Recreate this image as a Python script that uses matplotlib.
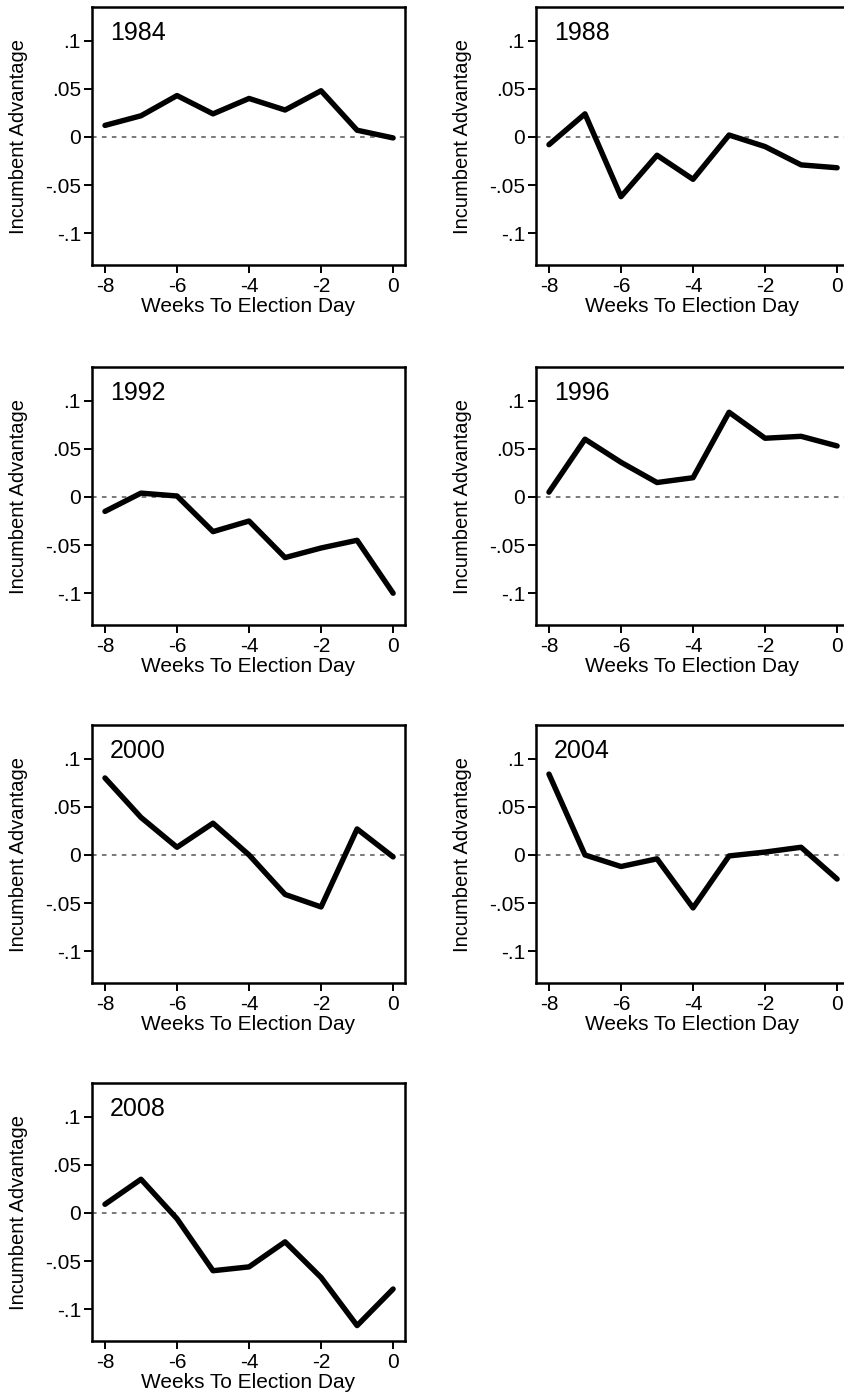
import numpy as np
import matplotlib
matplotlib.use('Agg')
import matplotlib.pyplot as plt

plt.rcParams['font.family'] = ['Liberation Sans', 'DejaVu Sans']

weeks = [-8, -7, -6, -5, -4, -3, -2, -1, 0]
years = ['1984', '1988', '1992', '1996', '2000', '2004', '2008']

adv_1984 = [0.012, 0.022, 0.043, 0.024, 0.040, 0.028, 0.048, 0.007, -0.001]
adv_1988 = [-0.008, 0.024, -0.062, -0.019, -0.044, 0.002, -0.010, -0.029, -0.032]
adv_1992 = [-0.015, 0.004, 0.001, -0.036, -0.025, -0.063, -0.053, -0.045, -0.100]
adv_1996 = [0.005, 0.060, 0.036, 0.015, 0.020, 0.088, 0.061, 0.063, 0.053]
adv_2000 = [0.080, 0.039, 0.008, 0.033, 0.000, -0.041, -0.054, 0.027, -0.002]
adv_2004 = [0.084, 0.000, -0.012, -0.004, -0.055, -0.001, 0.003, 0.008, -0.025]
adv_2008 = [0.009, 0.035, -0.006, -0.060, -0.056, -0.030, -0.067, -0.117, -0.079]

series = [adv_1984, adv_1988, adv_1992, adv_1996, adv_2000, adv_2004, adv_2008]

yticks = [0.1, 0.05, 0, -0.05, -0.1]
ytick_labels = ['.1', '.05', '0', '-.05', '-.1']
xticks = [-8, -6, -4, -2, 0]

W, H = 844, 1395
fig = plt.figure(figsize=(W / 100, H / 100), dpi=100)

# panel boxes in pixels (the right column runs past the image edge, as in the source)
col_left = [92, 536]
row_top = [7, 367, 725, 1083]
ax_w, ax_h = 313, 258

for k, (yr, vals) in enumerate(zip(years, series)):
    r, c = divmod(k, 2)
    x0 = col_left[c]
    y0 = row_top[r] + ax_h
    ax = fig.add_axes([x0 / W, 1 - y0 / H, ax_w / W, ax_h / H])
    ax.axhline(0, color='#555555', lw=1.1, ls=(0, (3, 3.5)), zorder=1)
    ax.plot(weeks, vals, color='black', lw=3.9, solid_joinstyle='round',
            solid_capstyle='round', zorder=2)
    ax.set_xlim(-8.36, 0.33)
    ax.set_ylim(-0.133, 0.135)
    ax.set_xticks(xticks, labels=[str(t) for t in xticks])
    ax.set_yticks(yticks, labels=ytick_labels)
    ax.tick_params(direction='out', length=6, width=1.4, labelsize=15, pad=2)
    ax.tick_params(axis='x', pad=3)
    for s in ax.spines.values():
        s.set_linewidth(1.8)
    ax.set_xlabel('Weeks To Election Day', fontsize=15, labelpad=0)
    ax.set_ylabel('Incumbent Advantage', fontsize=14.5, labelpad=12)
    ax.text(0.058, 0.90, yr, transform=ax.transAxes, fontsize=18,
            ha='left', va='center')

plt.savefig('out.png', dpi=100)
